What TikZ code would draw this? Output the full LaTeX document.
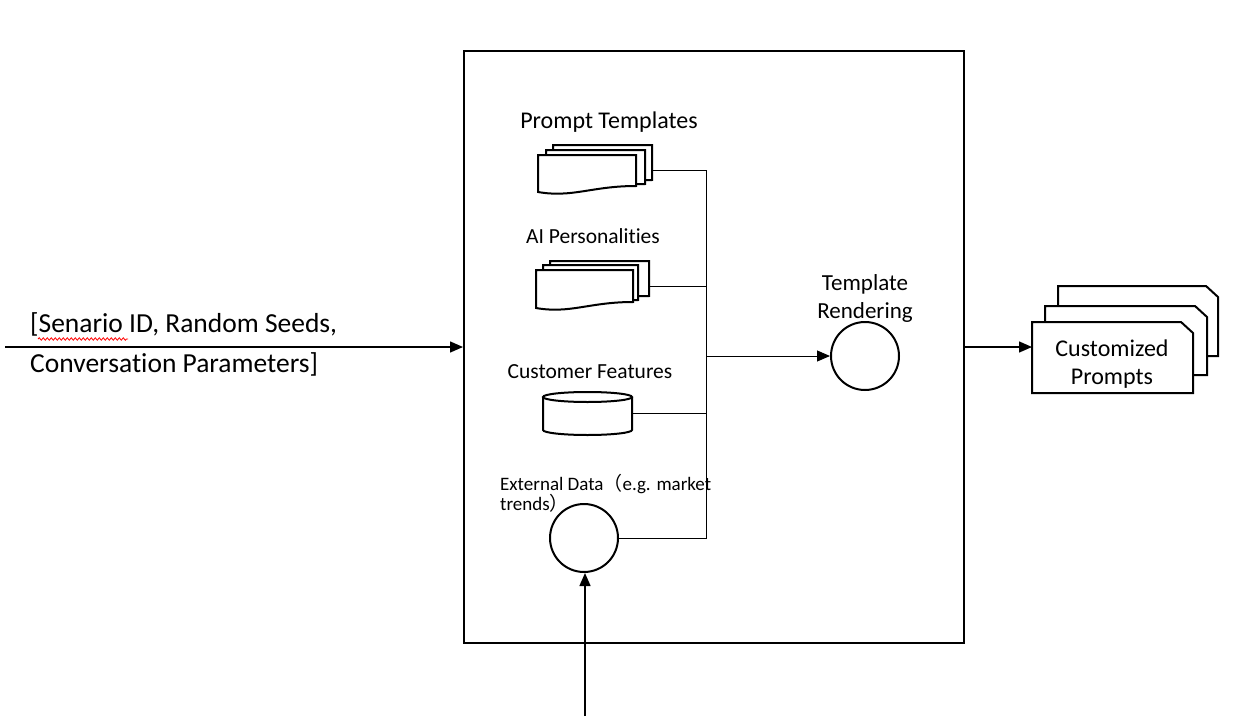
\documentclass[tikz,border=0pt]{standalone}
\usepackage{fontspec}
\setmainfont{Carlito}[Ligatures=CommonOff]
\newfontfamily\cjk{Noto Sans CJK SC}
\usetikzlibrary{arrows.meta,decorations.pathmorphing}
\newcommand\docsheet[4]{%
  \filldraw[fill=white,shapeline] (#1,#2) -- ({#1+#3},#2) -- ({#1+#3},{#2+#4})
    .. controls ({#1+0.55*#3},{#2+#4}) and ({#1+0.35*#3},{#2+#4+12}) .. (#1,{#2+#4+6}) -- cycle;}
\newcommand\cutsheet[4]{%
  \filldraw[fill=white,shapeline] (#1,#2) -- ({#3-12},#2) -- (#3,{#2+11}) -- (#3,#4) -- (#1,#4) -- cycle;}
\begin{document}
\begin{tikzpicture}[x=1pt,y=-1pt,
  shapeline/.style={line width=2pt,line join=miter},
  thin conn/.style={line width=1pt},
  arr/.style={line width=1.4pt,-{Triangle[length=13pt,width=11pt]}},
  arrthin/.style={line width=1pt,-{Triangle[length=13pt,width=11pt]}},
  lbl/.style={inner sep=0pt,align=center}]
\useasboundingbox (0,0) rectangle (1256,728);
% main box
\node[draw,line width=2pt,minimum width=500pt,minimum height=592pt,inner sep=0pt] (box) at (714,347) {};
% input text
\node[lbl,anchor=base west,font=\fontsize{27.5}{40}\selectfont,align=left] (intext) at (30,372)
  {[Senario ID, Random Seeds,\\Conversation Parameters]};
\draw[red,line width=0.8pt,decorate,decoration={snake,amplitude=1.2pt,segment length=4pt}] (38,339) -- (128,339);
\coordinate (inL) at (5,347);
\draw[arr] (inL) -- (inL -| box.west);
% Prompt Templates
\node[lbl,anchor=base,font=\fontsize{24}{28}\selectfont] (ptlbl) at (609,128) {Prompt Templates};
\docsheet{553}{145}{99}{35}
\docsheet{546}{150}{99}{34}
\docsheet{538}{155}{98}{31}
\coordinate (ptR) at (652,170);
% AI Personalities
\node[lbl,anchor=base,font=\fontsize{21.5}{26}\selectfont] (ailbl) at (593,243) {AI Personalities};
\docsheet{550}{261}{99}{35}
\docsheet{543}{265}{95}{35}
\docsheet{536}{270}{97}{32}
\coordinate (aiR) at (649,286);
% Customer Features
\node[lbl,anchor=base,font=\fontsize{21.5}{26}\selectfont] (cflbl) at (590,378) {Customer Features};
\filldraw[fill=white,shapeline] (543,397) -- (543,430) arc[start angle=180,end angle=0,x radius=44.5,y radius=5] -- (632,397);
\draw[shapeline] (587.5,397) ellipse[x radius=44.5,y radius=5];
\coordinate (cfR) at (632,413);
% External data
\node[lbl,anchor=base west,font=\fontsize{19}{20}\selectfont,align=left] (exlbl) at (500,510)
  {External Data{\cjk （}e.g. market\\trends{\cjk ）}};
\node[circle,draw,line width=2pt,minimum size=68pt,inner sep=0pt] (ext) at (584,538) {};
\coordinate (exB) at (585,716);
\draw[arr] (exB) -- (exB |- ext.south);
% Template rendering
\node[circle,draw,line width=2pt,minimum size=68pt,inner sep=0pt] (tr) at (865,356) {};
\node[lbl,font=\fontsize{23}{28}\selectfont,anchor=base] (trlbl) at (865,318) {Template\\Rendering};
% connectors
\coordinate (j) at (706,356);
\draw[thin conn] (ptR) -| (j);
\draw[thin conn] (aiR) -| (j);
\draw[thin conn] (cfR) -| (j);
\draw[thin conn] (ext.east) -| (j);
\draw[arrthin] (j) -- (tr.west);
% Customized prompts
\cutsheet{1058}{286}{1218}{356}
\cutsheet{1045}{306}{1207}{375}
\cutsheet{1032}{322}{1193}{393}
\node[lbl,font=\fontsize{24}{28}\selectfont] (cp) at (1112,364) {Customized\\Prompts};
\coordinate (cpL) at (1032,347);
\draw[arr] (box.east |- cpL) -- (cpL);
\end{tikzpicture}
\end{document}
